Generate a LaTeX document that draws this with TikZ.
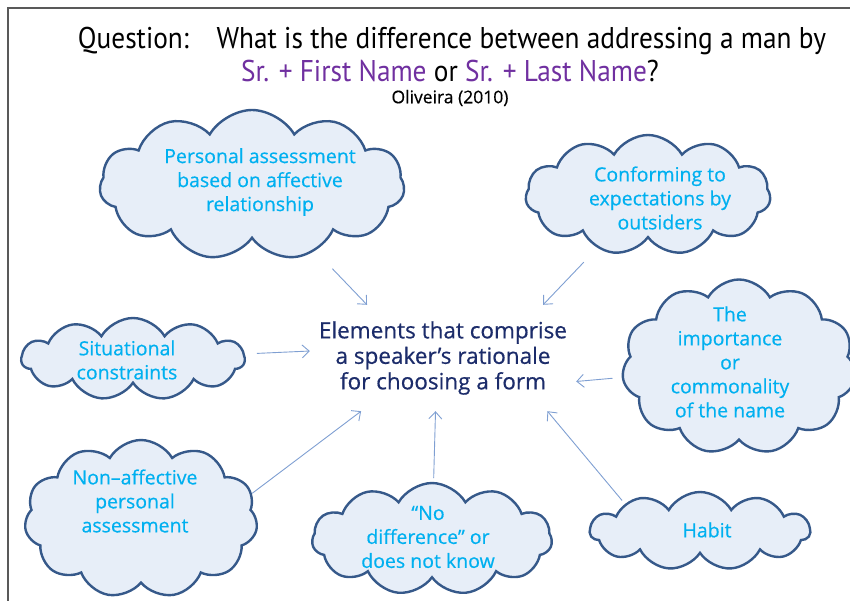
\documentclass[tikz,border=0pt]{standalone}
\usepackage{fontspec}
\setmainfont{Open Sans}
\newfontfamily\cloudfont{Open Sans}[FakeBold=0.5]
\newfontfamily\titlefont[FakeStretch=0.91]{PT Sans}
\usetikzlibrary{shapes.symbols, arrows.meta, positioning}
\definecolor{cloudfill}{HTML}{E7EEF8}
\definecolor{cloudline}{HTML}{36598A}
\definecolor{cloudtext}{HTML}{00B0F0}
\definecolor{navytext}{HTML}{1C2C6A}
\definecolor{namepurple}{HTML}{7030A0}
\definecolor{linkblue}{HTML}{7F9FD2}
\tikzset{
	thought/.style 2 args={
		draw=cloudline, % outline of the cloud
		fill=cloudfill, % light fill
		line width=2.4pt,
		cloud, cloud puffs=11, cloud puff arc=120,
		cloud ignores aspect,
		inner sep=0pt,
		minimum width=#1, % outer width
		minimum height=#2 % outer height
	},
	thoughttext/.style={
		align=center, text=cloudtext,
		font=\cloudfont\fontsize{19.5}{24}\selectfont
	},
	link/.style={
		draw=linkblue, line width=0.9pt,
		-{Straight Barb[length=7pt, width=13pt]}
	},
	heading/.style={font=\titlefont\fontsize{30}{32}\selectfont, inner sep=0pt}
}
\begin{document}
\begin{tikzpicture}[x=1pt, y=-1pt]
	\useasboundingbox (0,0) rectangle (850,601);
	\draw[gray!70!black, line width=1.6pt] (850,8) -- (8,8) -- (8,601);

	% title
	\node[heading] (question) at (452,41) {Question:\hspace{0.6em} What is the difference between addressing a man by};
	\node[heading] (forms) at (450,71) {\textcolor{namepurple}{Sr. + First Name} or \textcolor{namepurple}{Sr. + Last Name}?};
	\node[font=\cloudfont\fontsize{17.5}{19}\selectfont, inner sep=0pt] (cite) at (450,98) {Oliveira (2010)};

	% centre
	\node[align=center, text=navytext, minimum width=266pt, minimum height=106pt,
		font=\cloudfont\fontsize{22.5}{25.5}\selectfont] (elems) at (443,358)
		{Elements that comprise\\a speaker’s rationale\\for choosing a form};

	% clouds
	\node[thought={305pt}{150pt}] (affect) at (252,185) {};
	\node[thoughttext] (affect text) at (260,182) {Personal assessment\\based on affective\\relationship};

	\node[thought={245pt}{120pt}] (outsider) at (648,195) {};
	\node[thoughttext] (outsider text) at (660,198) {Conforming to\\expectations by\\outsiders};

	\node[thought={223pt}{82pt}] (situation) at (133,359) {};
	\node[thoughttext] (situation text) at (127,360) {Situational\\constraints};

	\node[thought={234pt}{175pt}] (commonness) at (739,367) {};
	\node[thoughttext] (commonness text) at (730,362) {The\\importance\\or\\commonality\\of the name};

	\node[thought={233pt}{158pt}] (nonaffect) at (141,519) {};
	\node[thoughttext] (nonaffect text) at (135,501) {Non–affective\\personal\\assessment};

	\node[thought={240pt}{112pt}] (nodiff) at (432,539) {};
	\node[thoughttext] (nodiff text) at (428,537) {“No\\difference” or\\does not know};

	\node[thought={220pt}{78pt}] (habit) at (700,531) {};
	\node[thoughttext] (habit text) at (707,530) {Habit};

	% arrows
	\draw[link, shorten <=116pt] (affect.center) -- (elems.145);
	\draw[link, shorten <=93pt] (outsider.center) -- (elems.28);
	\draw[link, shorten <=124pt] (situation.center) -- (elems.177);
	\draw[link, shorten <=127pt] (commonness.center) -- (elems.350);
	\draw[link] (nonaffect.13) -- (elems.213);
	\draw[link, shorten <=61pt] (nodiff.center) -- (elems.262);
	\draw[link, shorten <=4pt] (habit.160) -- (elems.333);
\end{tikzpicture}
\end{document}
